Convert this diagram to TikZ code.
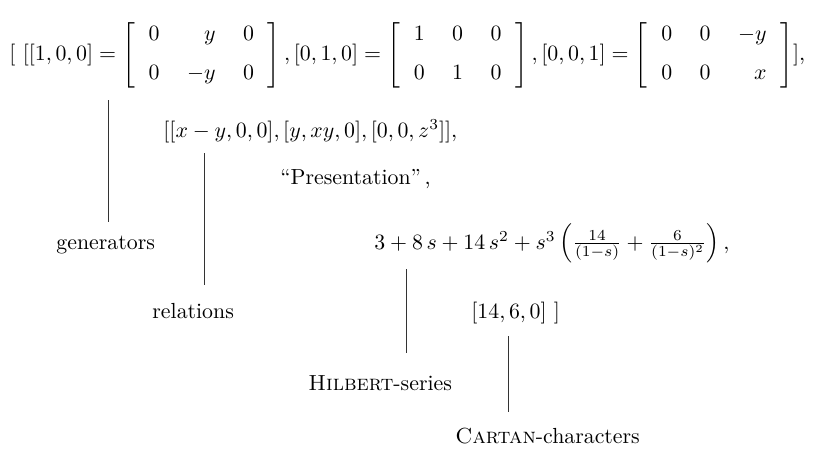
\documentclass[tikz,border=0pt]{standalone}
\usepackage{amsmath}
\begin{document}
\begin{tikzpicture}[x=0.458pt,y=-0.458pt,
  txt/.style={inner sep=0pt, anchor=base west},
  conn/.style={line width=0.45pt, black!80}]
\useasboundingbox (0,0) rectangle (821,452);
\node[inner sep=0pt, anchor=west] (top) at (9,55) {%
  \setlength{\arraycolsep}{6.3pt}%
  $[\ [[1,0,0]=\left[\begin{array}{rrr}0&y&0\\\noalign{\medskip}0&-y&0\end{array}\right],[0,1,0]=\left[\begin{array}{rrr}1&0&0\\\noalign{\medskip}0&1&0\end{array}\right],[0,0,1]=\left[\begin{array}{rrr}0&0&-y\\\noalign{\medskip}0&0&x\end{array}\right]],$};
\node[txt] (rel) at (163,137) {$[[x-y,0,0],[y,xy,0],[0,0,z^3]],$};
\node[txt] (pres) at (280,184) {``Presentation''\,,};
\node[txt] (genl) at (56,249) {generators};
\node[txt] (hilb) at (374,249) {$3+8\,s+14\,s^2+s^3\left(\frac{14}{(1-s)}+\frac{6}{(1-s)^2}\right),$};
\node[txt] (rell) at (152,318) {relations};
\node[txt] (cart) at (471,318) {$[14,6,0]\ ]$};
\node[txt] (hilbl) at (308,390) {\textsc{Hilbert}-series};
\node[txt] (cartl) at (455,443) {\textsc{Cartan}-characters};
\coordinate (c1a) at (108,100); \coordinate (c1b) at (108,222);
\coordinate (c2a) at (204,153); \coordinate (c2b) at (204,285);
\coordinate (c3a) at (406,269); \coordinate (c3b) at (406,353);
\coordinate (c4a) at (508,336); \coordinate (c4b) at (508,412);
\draw[conn] (c1a) -- (c1b);
\draw[conn] (c2a) -- (c2b);
\draw[conn] (c3a) -- (c3b);
\draw[conn] (c4a) -- (c4b);
\end{tikzpicture}
\end{document}
